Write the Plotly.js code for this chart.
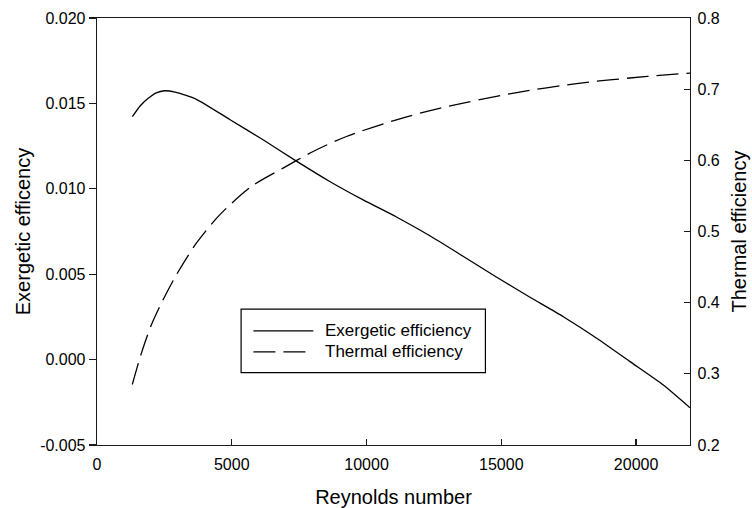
<!DOCTYPE html>
<html>
<head>
<meta charset="utf-8">
<script src="https://cdn.plot.ly/plotly-3.0.1.min.js"></script>
<style>html,body{margin:0;padding:0;background:#fff;}#chart{width:752px;height:508px;}</style>
</head>
<body>
<div id="chart"></div>
<script>
// Data
var reExergetic = [1310, 1600, 1900, 2200, 2500, 2900, 3686, 4923, 6162, 7398, 8634, 9874, 11110, 12350, 13580, 14800, 16064, 17300, 18539, 19775, 21010, 22000];
var exergetic   = [0.01422, 0.01485, 0.01530, 0.01562, 0.01574, 0.01566, 0.01524, 0.01406, 0.01287, 0.01162, 0.01043, 0.00935, 0.00835, 0.00725, 0.00605, 0.00485, 0.00365, 0.00251, 0.00125, -0.00012, -0.00149, -0.00282];

var reThermal = [1310, 1645, 2015, 2387, 2944, 3686, 4551, 5728, 6904, 8018, 9254, 11110, 12743, 15464, 17940, 20416, 22000];
var thermal   = [0.285, 0.3288, 0.3686, 0.3992, 0.4390, 0.4835, 0.5233, 0.5632, 0.589, 0.6124, 0.6335, 0.657, 0.6734, 0.6945, 0.7086, 0.7179, 0.7226];

var xTickVals = [0, 5000, 10000, 15000, 20000];
var xTickText = ['0', '5000', '10000', '15000', '20000'];
var yTickVals = [-0.005, 0.000, 0.005, 0.010, 0.015, 0.020];
var yTickText = ['-0.005', '0.000', '0.005', '0.010', '0.015', '0.020'];
var y2TickVals = [0.2, 0.3, 0.4, 0.5, 0.6, 0.7, 0.8];
var y2TickText = ['0.2', '0.3', '0.4', '0.5', '0.6', '0.7', '0.8'];

var seriesNames = ['Exergetic efficiency', 'Thermal efficiency'];

var FONT = 'Liberation Sans, Arial, sans-serif';
var AX = '#1a1a1a';

var traces = [
  {x: reExergetic, y: exergetic, type: 'scatter', mode: 'lines', name: seriesNames[0],
   line: {color: '#000', width: 1.3, shape: 'spline', smoothing: 0.6}, yaxis: 'y', showlegend: false, hoverinfo: 'skip'},
  {x: reThermal, y: thermal, type: 'scatter', mode: 'lines', name: seriesNames[1],
   line: {color: '#000', width: 1.3, dash: '22px,8px', shape: 'spline', smoothing: 0.8}, yaxis: 'y2', showlegend: false, hoverinfo: 'skip'}
];

var layout = {
  width: 752, height: 508,
  margin: {l: 97, r: 62, t: 18, b: 63, pad: 0},
  paper_bgcolor: '#fff', plot_bgcolor: '#fff',
  font: {family: FONT, size: 16, color: '#000'},
  showlegend: false,
  xaxis: {
    range: [0, 22000], tickvals: xTickVals, ticktext: xTickText,
    ticks: 'inside', ticklen: 6, tickwidth: 1.2, tickcolor: AX,
    showline: true, linecolor: AX, linewidth: 1.3, mirror: true,
    showgrid: false, zeroline: false, ticklabelstandoff: 4,
    tickfont: {family: FONT, size: 16, color: '#000'},
    title: {text: 'Reynolds number', font: {family: FONT, size: 20, color: '#000'}, standoff: 20}
  },
  yaxis: {
    range: [-0.005, 0.020], tickvals: yTickVals, ticktext: yTickText,
    ticks: 'outside', ticklen: 7, tickwidth: 1.2, tickcolor: AX,
    showline: true, linecolor: AX, linewidth: 1.3,
    showgrid: false, zeroline: false,
    tickfont: {family: FONT, size: 16, color: '#000'},
    title: {text: 'Exergetic efficency', font: {family: FONT, size: 20, color: '#000'}, standoff: 4}
  },
  yaxis2: {
    range: [0.2, 0.8], tickvals: y2TickVals, ticktext: y2TickText,
    overlaying: 'y', side: 'right',
    ticks: 'inside', ticklen: 6, tickwidth: 1.2, tickcolor: AX,
    showline: true, linecolor: AX, linewidth: 1.3,
    showgrid: false, zeroline: false, ticklabelstandoff: 3,
    tickfont: {family: FONT, size: 16, color: '#000'},
    title: {text: 'Thermal efficiency', font: {family: FONT, size: 20, color: '#000'}, standoff: 13}
  },
  shapes: [
    {type: 'rect', xref: 'paper', yref: 'paper', x0: 0.243, x1: 0.655, y0: 0.1694, y1: 0.318,
     line: {color: '#000', width: 1.2}, fillcolor: '#fff', layer: 'above'},
    {type: 'line', xref: 'paper', yref: 'paper', x0: 0.2638, x1: 0.3648, y0: 0.2672, y1: 0.2672,
     line: {color: '#000', width: 1.3}},
    {type: 'line', xref: 'paper', yref: 'paper', x0: 0.2638, x1: 0.3648, y0: 0.218, y1: 0.218,
     line: {color: '#000', width: 1.3, dash: '22px,8px'}}
  ],
  annotations: [
    {xref: 'paper', yref: 'paper', x: 0.3816, y: 0.2672, xanchor: 'left', yanchor: 'middle',
     text: seriesNames[0], showarrow: false, font: {family: FONT, size: 17, color: '#000'}},
    {xref: 'paper', yref: 'paper', x: 0.3816, y: 0.218, xanchor: 'left', yanchor: 'middle',
     text: seriesNames[1], showarrow: false, font: {family: FONT, size: 17, color: '#000'}}
  ]
};

Plotly.newPlot('chart', traces, layout, {staticPlot: true, displayModeBar: false});
</script>
</body>
</html>
